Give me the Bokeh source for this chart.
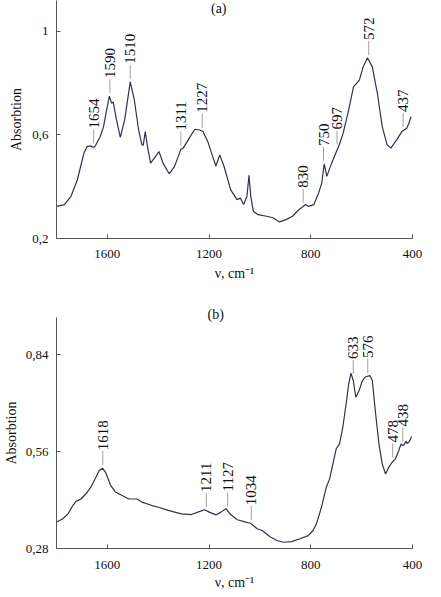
import numpy as np
from bokeh.plotting import figure
from bokeh.layouts import column
from bokeh.models import FixedTicker, CustomJSTickFormatter, Range1d, Title, Label
from bokeh.core.properties import value
from bokeh.embed import file_html
from bokeh.resources import INLINE

# ---------------- data: panel (a) ----------------
wn_a = [1798, 1769, 1743, 1718, 1692, 1680, 1667, 1654, 1647, 1628, 1615, 1603, 1592, 1583,
        1577, 1564, 1549, 1532, 1510, 1494, 1477, 1464, 1459, 1451, 1442, 1430, 1410, 1397,
        1381, 1357, 1336, 1320, 1311, 1301, 1282, 1256, 1237, 1224, 1205, 1186, 1173, 1158,
        1141, 1115, 1090, 1077, 1064, 1051, 1043, 1036, 1026, 1007, 974, 949, 923, 897, 872,
        846, 820, 808, 788, 769, 757, 747, 737, 718, 699, 688, 673, 654, 632, 609, 594, 577,
        558, 538, 519, 500, 485, 462, 442, 423, 414, 406]
abs_a = [0.324, 0.331, 0.363, 0.427, 0.530, 0.555, 0.558, 0.551, 0.558, 0.594, 0.632, 0.696,
         0.750, 0.722, 0.728, 0.658, 0.591, 0.658, 0.805, 0.735, 0.619, 0.562, 0.560, 0.613,
         0.555, 0.491, 0.517, 0.536, 0.491, 0.450, 0.478, 0.520, 0.545, 0.550, 0.581, 0.622,
         0.619, 0.613, 0.574, 0.517, 0.480, 0.523, 0.478, 0.388, 0.350, 0.356, 0.331, 0.363,
         0.444, 0.363, 0.305, 0.292, 0.286, 0.280, 0.264, 0.273, 0.286, 0.312, 0.331, 0.324,
         0.331, 0.376, 0.414, 0.488, 0.440, 0.491, 0.536, 0.562, 0.606, 0.683, 0.786, 0.812,
         0.863, 0.898, 0.863, 0.760, 0.632, 0.562, 0.549, 0.581, 0.613, 0.626, 0.645, 0.671]
peaks_a = [1654, 1590, 1510, 1311, 1227, 830, 750, 697, 572, 437]
yticks_a = [0.2, 0.6, 1.0]
ylabels_a = ["0,2", "0,6", "1"]

# ---------------- data: panel (b) ----------------
wn_b = [1801, 1775, 1755, 1736, 1723, 1704, 1684, 1665, 1645, 1632, 1619, 1607, 1587, 1568,
        1542, 1516, 1483, 1464, 1425, 1399, 1360, 1309, 1270, 1244, 1218, 1199, 1173, 1153,
        1134, 1115, 1089, 1056, 1037, 1011, 991, 959, 933, 908, 875, 843, 810, 791, 778, 758,
        739, 726, 713, 700, 687, 674, 661, 651, 642, 633, 623, 610, 597, 584, 567, 558, 545,
        532, 519, 506, 493, 480, 467, 454, 445, 438, 432, 426, 420, 414, 408, 404]
abs_b = [0.356, 0.366, 0.380, 0.404, 0.416, 0.423, 0.438, 0.457, 0.486, 0.505, 0.512, 0.500,
         0.462, 0.443, 0.433, 0.423, 0.423, 0.414, 0.404, 0.399, 0.390, 0.380, 0.378, 0.385,
         0.392, 0.385, 0.377, 0.385, 0.395, 0.378, 0.363, 0.356, 0.353, 0.337, 0.332, 0.313,
         0.303, 0.298, 0.300, 0.308, 0.317, 0.332, 0.351, 0.399, 0.457, 0.481, 0.524, 0.568,
         0.582, 0.630, 0.698, 0.755, 0.786, 0.765, 0.717, 0.736, 0.765, 0.776, 0.779, 0.765,
         0.669, 0.582, 0.524, 0.495, 0.515, 0.529, 0.539, 0.563, 0.582, 0.577, 0.580, 0.590,
         0.583, 0.588, 0.595, 0.603]
peaks_b = [1618, 1211, 1127, 1034, 633, 576, 478, 438]
yticks_b = [0.28, 0.56, 0.84]
ylabels_b = ["0,28", "0,56", "0,84"]

xticks = [400, 800, 1200, 1600]

SERIF = "Liberation Serif"
CURVE = "#2f3250"


def panel(wn, ab, peaks, yticks, ylabels, yr, height, borders,
          ylab_std, ylab_axstd, xlab_std, xlab_axstd):
    left, right, top, bottom = borders
    p = figure(width=441, height=height, x_range=Range1d(1800, 400), y_range=Range1d(*yr),
               output_backend="svg", toolbar_location=None,
               min_border_left=left, min_border_right=right,
               min_border_top=top, min_border_bottom=bottom, title=None)
    p.outline_line_color = None
    p.xgrid.visible = False
    p.ygrid.visible = False
    p.background_fill_color = "white"
    p.border_fill_color = "white"

    p.line(wn, ab, line_color=CURVE, line_width=1.2)

    frame_h = height - top - bottom
    dy = (yr[1] - yr[0]) / frame_h
    fine_x = np.linspace(400, 1800, 2801)
    fine_y = np.interp(fine_x, wn[::-1], ab[::-1])
    base = []
    for pk in peaks:
        m = (fine_x > pk - 5) & (fine_x < pk + 5)
        base.append(float(fine_y[m].max()))
    base = np.array(base)
    p.segment(x0=peaks, x1=peaks, y0=base + 3 * dy, y1=base + 17 * dy,
              line_color="#8a8a8a", line_width=0.8)
    p.text(x=peaks, y=list(base + 18 * dy), text=[str(v) for v in peaks],
           angle=np.pi / 2, text_align="left", text_baseline="middle",
           text_font=value(SERIF), text_font_size="15px", text_color="#111111")

    xa = p.xaxis[0]
    xa.ticker = FixedTicker(ticks=xticks)
    xa.minor_tick_line_color = None
    xa.major_tick_in = 4
    xa.major_tick_out = 0
    xa.axis_line_color = "#555555"
    xa.major_tick_line_color = "#555555"
    xa.major_label_text_font = SERIF
    xa.major_label_text_font_size = "13px"
    xa.major_label_text_color = "#111111"
    xa.major_label_standoff = xlab_std
    xa.axis_label = "ν, cm⁻¹"
    xa.axis_label_text_font = SERIF
    xa.axis_label_text_font_style = "normal"
    xa.axis_label_text_font_size = "14px"
    xa.axis_label_text_color = "#111111"
    xa.axis_label_standoff = xlab_axstd

    ya = p.yaxis[0]
    ya.ticker = FixedTicker(ticks=yticks)
    ya.formatter = CustomJSTickFormatter(args=dict(t=yticks, l=ylabels), code="""
        for (let i = 0; i < t.length; i++) { if (Math.abs(t[i] - tick) < 1e-6) return l[i]; }
        return '';""")
    ya.minor_tick_line_color = None
    ya.major_tick_in = 4
    ya.major_tick_out = 0
    ya.axis_line_color = "#555555"
    ya.major_tick_line_color = "#555555"
    ya.major_label_text_font = SERIF
    ya.major_label_text_font_size = "13px"
    ya.major_label_text_color = "#111111"
    ya.major_label_standoff = ylab_std
    ya.axis_label = "Absorbtion"
    ya.axis_label_text_font = SERIF
    ya.axis_label_text_font_style = "normal"
    ya.axis_label_text_font_size = "14px"
    ya.axis_label_text_color = "#111111"
    ya.axis_label_standoff = ylab_axstd
    return p


# panel (a): frame reaches the top of the canvas; title drawn inside the frame
pa = panel(wn_a, abs_a, peaks_a, yticks_a, ylabels_a, (0.2, 1.1193), 290, (48, 29, 0, 52),
           8, 5, 11, 5)
pa.add_layout(Label(x=1162, y=1.088, text="(a)", text_font=SERIF, text_font_size="14px",
                    text_align="center", text_baseline="middle", text_color="#111111"))

# panel (b): title sits in the band above the frame
pb = panel(wn_b, abs_b, peaks_b, yticks_b, ylabels_b, (0.28, 0.947), 307, (53, 28, 27, 49),
           8, 4, 12, 3)
pb.add_layout(Title(text="(b)", align="left", offset=151, text_font=SERIF,
                    text_font_size="14px", text_font_style="normal", text_color="#111111",
                    standoff=-8), "above")

layout = column(pa, pb, spacing=0)
open("out.html", "w").write(file_html(layout, INLINE))
